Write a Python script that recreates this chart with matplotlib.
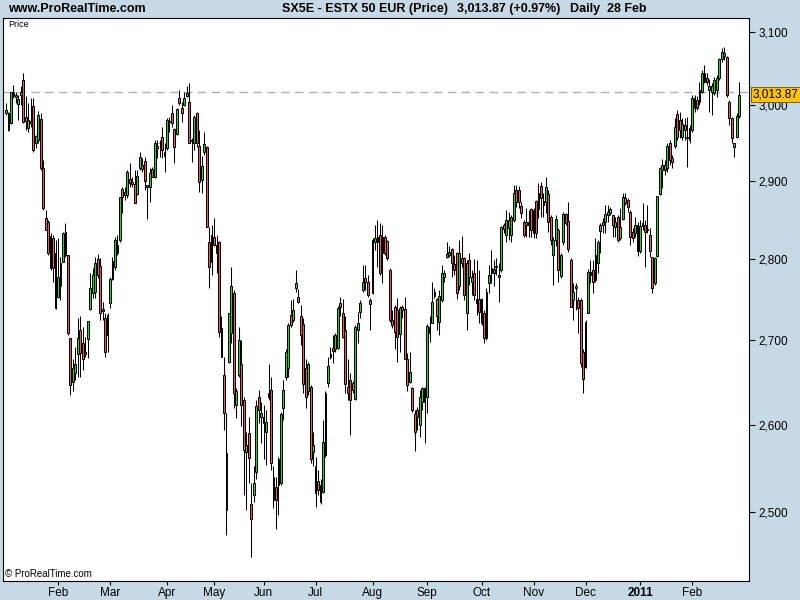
import matplotlib
matplotlib.use("Agg")
import matplotlib.pyplot as plt
from matplotlib.ticker import FixedLocator, NullLocator

plt.rcParams["font.family"] = ["Liberation Sans", "DejaVu Sans"]

# daily OHLC, SX5E, Jan 2010 - 28 Feb 2011
opens = [
    2989, 2989, 2976, 3017, 3014, 3001, 3014, 3034, 2984, 2969,
    2979, 2999, 2949, 2953, 2981, 2917, 2852, 2847, 2789, 2827,
    2808, 2753, 2766, 2796, 2834, 2805, 2703, 2650, 2661, 2683,
    2713, 2697, 2686, 2702, 2738, 2758, 2759, 2800, 2791, 2738,
    2727, 2707, 2746, 2775, 2790, 2808, 2824, 2889, 2886, 2882,
    2902, 2898, 2896, 2883, 2917, 2921, 2926, 2894, 2892, 2915,
    2905, 2945, 2950, 2957, 2938, 2943, 2979, 2989, 2968, 2961,
    3010, 2996, 3000, 3012, 3004, 2954, 2949, 2989, 2946, 2901,
    2938, 2944, 2822, 2796, 2828, 2808, 2822, 2715, 2659, 2567,
    2674, 2709, 2758, 2623, 2659, 2672, 2629, 2568, 2590, 2509,
    2520, 2546, 2633, 2609, 2602, 2591, 2633, 2641, 2540, 2529,
    2531, 2533, 2619, 2656, 2667, 2731, 2725, 2764, 2753, 2729,
    2720, 2667, 2639, 2644, 2568, 2552, 2535, 2531, 2523, 2565,
    2649, 2680, 2691, 2689, 2691, 2746, 2733, 2713, 2644, 2653,
    2649, 2630, 2713, 2735, 2762, 2777, 2772, 2749, 2758, 2821,
    2828, 2831, 2808, 2828, 2823, 2787, 2725, 2741, 2737, 2708,
    2741, 2738, 2678, 2650, 2643, 2613, 2617, 2600, 2626, 2643,
    2633, 2709, 2721, 2759, 2751, 2722, 2749, 2778, 2803, 2805,
    2813, 2794, 2808, 2766, 2802, 2802, 2733, 2799, 2772, 2783,
    2746, 2751, 2751, 2733, 2703, 2770, 2783, 2783, 2791, 2780,
    2787, 2843, 2831, 2850, 2831, 2850, 2888, 2888, 2867, 2847,
    2843, 2843, 2863, 2833, 2874, 2863, 2893, 2874, 2873, 2883,
    2853, 2805, 2824, 2837, 2779, 2821, 2857, 2848, 2799, 2749,
    2764, 2749, 2749, 2686, 2668, 2733, 2784, 2787, 2774, 2795,
    2836, 2847, 2847, 2856, 2858, 2856, 2841, 2853, 2826, 2851,
    2878, 2875, 2860, 2834, 2833, 2843, 2810, 2842, 2843, 2838,
    2831, 2803, 2770, 2804, 2883, 2914, 2921, 2917, 2950, 2930,
    2946, 2988, 2980, 2957, 2973, 2957, 2953, 2967, 3010, 3007,
    3004, 3017, 3031, 3037, 3020, 3017, 3016, 3020, 3037, 3063,
    3071, 3065, 3004, 2983, 2944, 2957, 2985,
]
highs = [
    3003, 2991, 3018, 3027, 3017, 3014, 3025, 3043, 3012, 3003,
    3010, 3010, 2960, 2992, 2989, 2927, 2862, 2850, 2833, 2831,
    2824, 2827, 2803, 2834, 2846, 2805, 2703, 2677, 2692, 2727,
    2729, 2716, 2704, 2724, 2783, 2789, 2803, 2807, 2802, 2747,
    2733, 2733, 2778, 2803, 2828, 2831, 2879, 2892, 2892, 2914,
    2923, 2905, 2914, 2914, 2938, 2930, 2931, 2894, 2917, 2918,
    2953, 2953, 2953, 2971, 2949, 2983, 2984, 3000, 2969, 2996,
    3020, 3004, 3017, 3025, 3029, 2956, 2987, 2991, 2967, 2932,
    2964, 2945, 2841, 2843, 2852, 2831, 2823, 2729, 2680, 2614,
    2733, 2790, 2762, 2643, 2716, 2701, 2633, 2591, 2609, 2533,
    2552, 2629, 2641, 2627, 2623, 2617, 2671, 2656, 2552, 2540,
    2563, 2615, 2653, 2689, 2721, 2749, 2751, 2787, 2763, 2743,
    2727, 2677, 2674, 2647, 2591, 2563, 2548, 2537, 2606, 2640,
    2680, 2692, 2707, 2709, 2742, 2753, 2751, 2730, 2677, 2661,
    2651, 2719, 2735, 2749, 2793, 2793, 2780, 2752, 2827, 2843,
    2850, 2846, 2843, 2831, 2824, 2789, 2737, 2743, 2752, 2742,
    2743, 2753, 2685, 2686, 2644, 2617, 2621, 2641, 2644, 2644,
    2720, 2729, 2772, 2764, 2752, 2762, 2793, 2787, 2822, 2816,
    2814, 2805, 2809, 2824, 2829, 2803, 2799, 2808, 2787, 2800,
    2799, 2787, 2752, 2737, 2764, 2793, 2812, 2799, 2802, 2795,
    2842, 2846, 2862, 2860, 2856, 2894, 2894, 2893, 2873, 2850,
    2865, 2862, 2865, 2865, 2875, 2897, 2898, 2884, 2905, 2888,
    2856, 2828, 2856, 2839, 2808, 2860, 2858, 2873, 2802, 2770,
    2770, 2753, 2752, 2689, 2725, 2788, 2799, 2799, 2827, 2824,
    2846, 2852, 2869, 2869, 2866, 2856, 2853, 2856, 2865, 2884,
    2884, 2878, 2862, 2839, 2853, 2847, 2850, 2871, 2850, 2869,
    2839, 2803, 2803, 2880, 2918, 2928, 2927, 2949, 2953, 2934,
    2983, 2993, 2991, 2983, 2983, 2984, 2973, 3014, 3014, 3012,
    3031, 3047, 3054, 3043, 3035, 3030, 3038, 3041, 3064, 3078,
    3079, 3067, 3007, 2984, 2950, 2989, 3031,
]
lows = [
    2987, 2965, 2975, 3010, 3003, 2980, 3000, 2976, 2967, 2964,
    2971, 2938, 2943, 2950, 2914, 2862, 2837, 2805, 2787, 2772,
    2738, 2752, 2749, 2796, 2803, 2707, 2635, 2639, 2653, 2656,
    2656, 2665, 2680, 2679, 2737, 2752, 2752, 2777, 2725, 2725,
    2680, 2686, 2740, 2774, 2787, 2805, 2822, 2858, 2875, 2878,
    2892, 2892, 2871, 2882, 2914, 2911, 2888, 2851, 2873, 2905,
    2904, 2930, 2931, 2930, 2911, 2940, 2964, 2971, 2923, 2960,
    3000, 2977, 2999, 3011, 2949, 2924, 2940, 2944, 2886, 2884,
    2934, 2841, 2764, 2780, 2816, 2783, 2704, 2680, 2594, 2475,
    2673, 2697, 2620, 2608, 2656, 2598, 2520, 2503, 2533, 2451,
    2511, 2537, 2602, 2579, 2560, 2554, 2629, 2548, 2505, 2481,
    2497, 2531, 2606, 2653, 2656, 2716, 2722, 2759, 2746, 2695,
    2637, 2620, 2635, 2556, 2552, 2506, 2520, 2509, 2522, 2563,
    2644, 2677, 2673, 2686, 2689, 2729, 2703, 2637, 2629, 2588,
    2637, 2629, 2697, 2727, 2759, 2762, 2753, 2713, 2757, 2812,
    2790, 2780, 2770, 2805, 2799, 2722, 2715, 2689, 2674, 2686,
    2727, 2677, 2639, 2649, 2615, 2569, 2594, 2586, 2617, 2579,
    2614, 2698, 2721, 2752, 2713, 2707, 2747, 2772, 2802, 2803,
    2778, 2780, 2751, 2762, 2790, 2749, 2713, 2768, 2756, 2749,
    2731, 2721, 2719, 2697, 2701, 2758, 2770, 2766, 2780, 2747,
    2784, 2833, 2821, 2824, 2822, 2847, 2866, 2865, 2852, 2828,
    2828, 2828, 2828, 2827, 2827, 2852, 2853, 2853, 2858, 2834,
    2818, 2768, 2816, 2772, 2777, 2818, 2843, 2809, 2741, 2725,
    2737, 2709, 2668, 2637, 2667, 2733, 2770, 2758, 2772, 2783,
    2808, 2833, 2833, 2847, 2856, 2828, 2828, 2821, 2824, 2850,
    2869, 2860, 2818, 2822, 2828, 2804, 2808, 2837, 2790, 2833,
    2803, 2758, 2768, 2803, 2882, 2891, 2908, 2911, 2921, 2917,
    2943, 2953, 2956, 2953, 2953, 2918, 2950, 2964, 2991, 2993,
    3000, 3016, 3030, 3027, 2991, 2987, 3014, 3011, 3034, 3058,
    3061, 3011, 2973, 2949, 2931, 2956, 2983,
]
closes = [
    2993, 2967, 3017, 3012, 3011, 3008, 3017, 2977, 2979, 2980,
    2976, 2940, 2958, 2987, 2917, 2865, 2837, 2808, 2829, 2789,
    2740, 2778, 2795, 2833, 2805, 2709, 2647, 2667, 2671, 2703,
    2685, 2677, 2684, 2724, 2764, 2780, 2795, 2780, 2733, 2736,
    2686, 2731, 2775, 2798, 2824, 2818, 2879, 2879, 2882, 2911,
    2897, 2896, 2871, 2906, 2931, 2915, 2900, 2892, 2910, 2905,
    2949, 2943, 2949, 2940, 2932, 2980, 2977, 2976, 2944, 2995,
    3003, 2989, 3010, 3016, 2950, 2952, 2984, 2949, 2898, 2919,
    2948, 2841, 2790, 2831, 2818, 2818, 2710, 2680, 2614, 2503,
    2733, 2767, 2637, 2639, 2701, 2623, 2571, 2577, 2562, 2492,
    2533, 2622, 2617, 2614, 2609, 2603, 2637, 2556, 2514, 2514,
    2560, 2612, 2641, 2686, 2719, 2719, 2737, 2770, 2747, 2707,
    2648, 2632, 2672, 2560, 2577, 2522, 2525, 2511, 2580, 2637,
    2669, 2684, 2687, 2706, 2740, 2741, 2704, 2648, 2637, 2629,
    2641, 2716, 2721, 2746, 2772, 2772, 2756, 2744, 2824, 2827,
    2822, 2783, 2828, 2808, 2802, 2725, 2719, 2710, 2704, 2740,
    2737, 2677, 2647, 2662, 2617, 2591, 2609, 2633, 2643, 2626,
    2718, 2716, 2747, 2754, 2729, 2754, 2783, 2783, 2807, 2809,
    2795, 2787, 2758, 2808, 2795, 2756, 2795, 2778, 2778, 2756,
    2751, 2735, 2721, 2703, 2759, 2780, 2789, 2788, 2790, 2778,
    2841, 2838, 2850, 2839, 2853, 2884, 2873, 2873, 2858, 2831,
    2847, 2847, 2837, 2862, 2833, 2884, 2878, 2869, 2892, 2847,
    2824, 2824, 2851, 2787, 2805, 2857, 2846, 2813, 2741, 2759,
    2767, 2740, 2673, 2654, 2722, 2784, 2780, 2772, 2805, 2821,
    2843, 2843, 2857, 2860, 2863, 2843, 2847, 2824, 2841, 2879,
    2871, 2866, 2828, 2827, 2843, 2810, 2842, 2846, 2834, 2837,
    2810, 2764, 2802, 2880, 2917, 2921, 2914, 2946, 2927, 2924,
    2971, 2957, 2967, 2975, 2967, 2956, 2969, 3010, 2996, 2996,
    3020, 3043, 3043, 3031, 3025, 3025, 3034, 3037, 3063, 3072,
    3067, 3014, 2983, 2956, 2949, 2985, 3013.87,
]

month_idx = [21, 42, 65, 84, 104, 125, 148, 170, 192, 213, 234, 256, 277]
month_lbl = ["Feb", "Mar", "Apr", "May", "Jun", "Jul", "Aug", "Sep",
             "Oct", "Nov", "Dec", "2011", "Feb"]
price_ticks = [2500, 2600, 2700, 2800, 2900, 3000, 3100]
last_close = 3013.87
ref_level = 3018

BG = "#c8d9e6"
UP = "#33cc33"
DOWN = "#e06060"

fig = plt.figure(figsize=(8, 6), dpi=100, facecolor=BG)
ax = fig.add_axes([3 / 800, 19 / 600, 746 / 800, 563 / 600])
ax.set_facecolor("white")

# dashed reference line behind the candles
ax.axhline(ref_level, color="#b0b0b0", lw=1, ls=(0, (6, 4)), zorder=1)

x = list(range(len(closes)))
cols = [UP if c >= o else DOWN for o, c in zip(opens, closes)]
bottoms = [min(o, c) for o, c in zip(opens, closes)]
heights = [max(abs(c - o), 1.0) for o, c in zip(opens, closes)]

ax.vlines(x, lows, highs, color="black", lw=0.75, zorder=2)
ax.bar(x, heights, bottom=bottoms, width=0.74, color=cols,
       edgecolor="black", linewidth=0.7, zorder=3)

ax.set_yscale("log")
ax.set_ylim(2424.3, 3119.1)
ax.set_xlim(-1.21, 300.0)

ax.yaxis.set_major_locator(FixedLocator(price_ticks))
ax.yaxis.set_minor_locator(NullLocator())
ax.set_yticklabels([f"{v:,}" for v in price_ticks])
ax.yaxis.tick_right()
ax.tick_params(axis="y", length=4, width=0.8, labelsize=8.5, pad=3)

ax.set_xticks(month_idx)
ax.set_xticklabels(month_lbl)
ax.tick_params(axis="x", length=3, width=0.8, labelsize=8.5, pad=1.5)
ax.get_xticklabels()[11].set_fontweight("bold")

for sp in ax.spines.values():
    sp.set_color("black")
    sp.set_linewidth(0.8)

# last price tag on the right scale
ax.text(1.005, last_close, "3,013.87", transform=ax.get_yaxis_transform(),
        va="center", ha="left", fontsize=8.5, clip_on=False, zorder=5,
        bbox=dict(boxstyle="square,pad=0.15", fc="#ffc20e", ec="#6b5200", lw=0.6))

ax.text(0.007, 0.996, "Price", transform=ax.transAxes, fontsize=6.5, va="top", ha="left")
ax.text(0.003, 0.004, "\u00a9 ProRealTime.com", transform=ax.transAxes,
        fontsize=7, va="bottom", ha="left")

# header bar
hy = 1 - 9 / 600
fig.text(8 / 800, hy, "www.ProRealTime.com", fontsize=9, fontweight="bold", va="center")
fig.text(448 / 800, hy, "SX5E - ESTX 50 EUR (Price)", fontsize=9, fontweight="bold",
         va="center", ha="right")
fig.text(457 / 800, hy, "3,013.87 (+0.97%)", fontsize=9, fontweight="bold", va="center")
fig.text(570 / 800, hy, "Daily  28 Feb", fontsize=9, fontweight="bold", va="center")

fig.savefig("out.png", dpi=100, facecolor=BG)
